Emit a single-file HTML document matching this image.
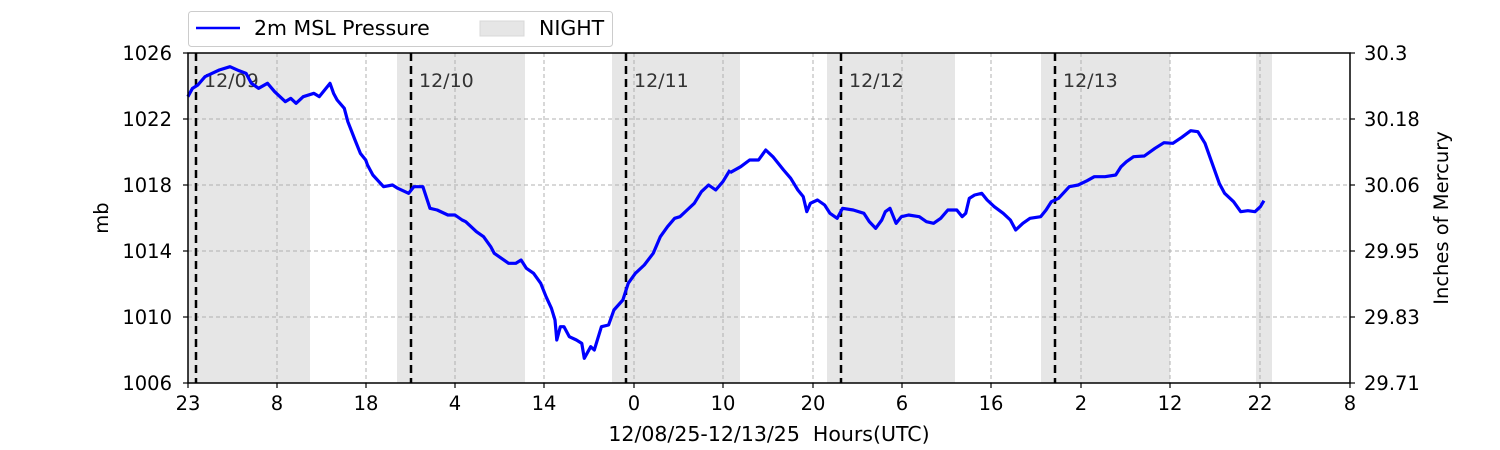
<!DOCTYPE html>
<html><head><style>body{margin:0;background:#fff}svg{display:block;font-family:"DejaVu Sans","Liberation Sans",sans-serif}</style></head>
<body>
<svg width="1500" height="450" viewBox="0 0 1500 450">
<g fill="#e6e6e6">
<rect x="188" y="53" width="122" height="330"/>
<rect x="397" y="53" width="128" height="330"/>
<rect x="612" y="53" width="128" height="330"/>
<rect x="827" y="53" width="128" height="330"/>
<rect x="1041" y="53" width="129" height="330"/>
<rect x="1256" y="53" width="16" height="330"/>
</g>
<g stroke="#b0b0b0" stroke-width="1" stroke-dasharray="4,3">
<line x1="277" y1="53" x2="277" y2="383"/><line x1="366" y1="53" x2="366" y2="383"/><line x1="455" y1="53" x2="455" y2="383"/><line x1="544" y1="53" x2="544" y2="383"/><line x1="634" y1="53" x2="634" y2="383"/><line x1="723" y1="53" x2="723" y2="383"/><line x1="813" y1="53" x2="813" y2="383"/><line x1="902" y1="53" x2="902" y2="383"/><line x1="991" y1="53" x2="991" y2="383"/><line x1="1081" y1="53" x2="1081" y2="383"/><line x1="1170" y1="53" x2="1170" y2="383"/><line x1="1260" y1="53" x2="1260" y2="383"/>
<line x1="188" y1="119" x2="1350" y2="119"/><line x1="188" y1="185" x2="1350" y2="185"/><line x1="188" y1="251" x2="1350" y2="251"/><line x1="188" y1="317" x2="1350" y2="317"/>
</g>
<g stroke="#000" stroke-width="2.5" stroke-dasharray="8,5">
<line x1="196" y1="53" x2="196" y2="383"/><line x1="411" y1="53" x2="411" y2="383"/><line x1="626" y1="53" x2="626" y2="383"/><line x1="841" y1="53" x2="841" y2="383"/><line x1="1055" y1="53" x2="1055" y2="383"/>
</g>
<g font-size="19" fill="#333">
<text x="204" y="87">12/09</text><text x="419" y="87">12/10</text><text x="634" y="87">12/11</text><text x="849" y="87">12/12</text><text x="1063" y="87">12/13</text>
</g>
<g transform="translate(180,50) scale(0.357143,0.333333)" fill="none" stroke="#0000ff" stroke-width="3.2" stroke-linejoin="round">
<polyline vector-effect="non-scaling-stroke" points="22,140 35,115 50,105 70,80 90,70 110,60 140,50 165,62 185,70 200,100 220,115 245,100 265,125 295,155 310,145 325,160 345,140 375,130 390,140 420,100 430,130 440,150 460,175 470,215 490,270 505,310 520,330 525,345 540,375 570,410 595,405 610,415 640,430 655,410 680,410 700,475 720,480 750,495 770,495 790,510 800,515 815,530 830,545 850,560 870,590 880,610 900,625 920,640 940,640 955,630 970,655 990,670 1010,700 1025,740 1040,775 1050,810 1055,870 1065,830 1075,830 1090,860 1110,870 1125,880 1132,925 1150,890 1160,900 1180,830 1200,825 1215,780 1240,750 1255,700 1275,670 1300,645 1325,610 1345,560 1365,530 1385,505 1400,500 1420,480 1440,460 1460,425 1480,405 1500,420 1520,395 1540,360"/>
</g>
<g transform="translate(730,50) scale(0.357143,0.333333)" fill="none" stroke="#0000ff" stroke-width="3.2" stroke-linejoin="round">
<polyline vector-effect="non-scaling-stroke" points="0,368 30,350 55,330 80,330 100,300 120,320 150,360 170,385 190,420 205,440 215,485 225,460 245,450 265,465 280,490 300,505 315,475 345,480 375,490 390,515 408,535 425,510 435,485 448,475 465,520 480,500 500,495 530,500 550,515 570,520 590,505 610,480 635,480 650,500 660,490 670,445 685,435 705,430 720,450 740,470 765,490 785,510 800,540 820,520 840,505 870,500 885,480 900,455 920,445 950,410 975,405 1000,392 1020,380 1050,380 1080,375 1095,350 1110,335 1130,320 1160,318 1190,295 1215,278 1240,280 1265,262 1290,242 1310,245 1330,280 1350,340 1370,400 1385,430 1410,455 1430,485 1450,482 1470,485 1485,470 1495,452"/>
</g>
<rect x="188" y="53" width="1162" height="330" fill="none" stroke="#000" stroke-width="1.5"/>
<g stroke="#000" stroke-width="1.2">
<line x1="188" y1="383" x2="188" y2="388"/><line x1="277" y1="383" x2="277" y2="388"/><line x1="366" y1="383" x2="366" y2="388"/><line x1="455" y1="383" x2="455" y2="388"/><line x1="544" y1="383" x2="544" y2="388"/><line x1="634" y1="383" x2="634" y2="388"/><line x1="723" y1="383" x2="723" y2="388"/><line x1="813" y1="383" x2="813" y2="388"/><line x1="902" y1="383" x2="902" y2="388"/><line x1="991" y1="383" x2="991" y2="388"/><line x1="1081" y1="383" x2="1081" y2="388"/><line x1="1170" y1="383" x2="1170" y2="388"/><line x1="1260" y1="383" x2="1260" y2="388"/><line x1="1350" y1="383" x2="1350" y2="388"/>
<line x1="183" y1="53" x2="188" y2="53"/><line x1="183" y1="119" x2="188" y2="119"/><line x1="183" y1="185" x2="188" y2="185"/><line x1="183" y1="251" x2="188" y2="251"/><line x1="183" y1="317" x2="188" y2="317"/><line x1="183" y1="383" x2="188" y2="383"/>
<line x1="1350" y1="53" x2="1355" y2="53"/><line x1="1350" y1="119" x2="1355" y2="119"/><line x1="1350" y1="185" x2="1355" y2="185"/><line x1="1350" y1="251" x2="1355" y2="251"/><line x1="1350" y1="317" x2="1355" y2="317"/><line x1="1350" y1="383" x2="1355" y2="383"/>
</g>
<g font-size="19.5" fill="#000" text-anchor="middle">
<text x="188" y="410">23</text><text x="277" y="410">8</text><text x="366" y="410">18</text><text x="455" y="410">4</text><text x="544" y="410">14</text><text x="634" y="410">0</text><text x="723" y="410">10</text><text x="813" y="410">20</text><text x="902" y="410">6</text><text x="991" y="410">16</text><text x="1081" y="410">2</text><text x="1170" y="410">12</text><text x="1260" y="410">22</text><text x="1350" y="410">8</text>
<text x="769" y="441" font-size="20.5" xml:space="preserve">12/08/25-12/13/25  Hours(UTC)</text>
</g>
<g font-size="19.5" fill="#000" text-anchor="end">
<text x="172" y="60">1026</text><text x="172" y="126">1022</text><text x="172" y="192">1018</text><text x="172" y="258">1014</text><text x="172" y="324">1010</text><text x="172" y="390">1006</text>
</g>
<g font-size="19.5" fill="#000">
<text x="1364" y="60">30.3</text><text x="1364" y="126">30.18</text><text x="1364" y="192">30.06</text><text x="1364" y="258">29.95</text><text x="1364" y="324">29.83</text><text x="1364" y="390">29.71</text>
</g>
<text transform="translate(108,218) rotate(-90)" font-size="19.5" text-anchor="middle">mb</text>
<text transform="translate(1448,218) rotate(-90)" font-size="19.5" text-anchor="middle">Inches of Mercury</text>
<rect x="188.5" y="11.5" width="424" height="35" rx="3" fill="#fff" stroke="#ccc"/>
<line x1="196" y1="28" x2="240" y2="28" stroke="#0000ff" stroke-width="2.5"/>
<text x="254" y="35" font-size="20.5">2m MSL Pressure</text>
<rect x="480" y="21" width="44" height="15" fill="#e6e6e6" stroke="#d8d8d8"/>
<text x="539" y="35" font-size="20.5">NIGHT</text>
</svg>
</body></html>
